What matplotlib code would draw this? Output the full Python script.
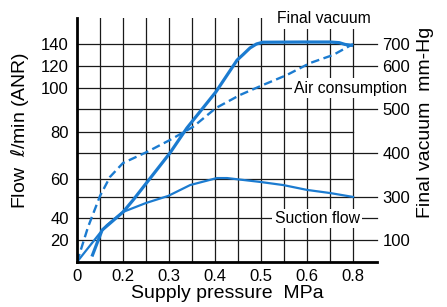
import numpy as np
import matplotlib
matplotlib.use("Agg")
import matplotlib.pyplot as plt

plt.rcParams['font.family'] = ['Liberation Sans', 'DejaVu Sans']

# ---- data ----
# Supply pressure [MPa]
fv_x = [0.065, 0.109, 0.135, 0.20, 0.222, 0.302, 0.339, 0.402, 0.448, 0.461, 0.476, 0.490, 0.504, 0.591, 0.70, 0.74, 0.765, 0.80]
fv_y = [25, 146, 170, 230, 286, 400, 457, 540, 627, 652, 682, 700, 708, 709, 709, 706, 698, 693]   # final vacuum mm-Hg

air_x = [0.0, 0.048, 0.10, 0.1435, 0.20, 0.252, 0.302, 0.352, 0.402, 0.454, 0.504, 0.556, 0.613, 0.713, 0.80]
air_y = [0, 31.8, 51.3, 60.9, 66.8, 71.5, 76.6, 82.3, 90.9, 96.8, 102.7, 111.8, 122.7, 130, 140]  # l/min

suc_x = [0.0, 0.10, 0.13, 0.20, 0.25, 0.298, 0.346, 0.404, 0.426, 0.498, 0.548, 0.60, 0.70, 0.80]
suc_y = [0, 26.4, 33.6, 43.1, 47.7, 51.3, 56.9, 60.4, 60.4, 58.5, 56.9, 54.4, 52.8, 50.8]  # l/min

x_ticks = [0, 0.2, 0.3, 0.4, 0.5, 0.6, 0.8]
x_ticklabels = ['0', '0.2', '0.3', '0.4', '0.5', '0.6', '0.8']
left_ticks = [20, 40, 60, 80, 100, 120, 140]
right_ticks = [100, 300, 400, 500, 600, 700]

# ---- nonuniform printed scales (value -> grid position) ----
X_VAL = [0, 0.2, 0.3, 0.4, 0.5, 0.6, 0.8, 1.0, 2.0]
X_POS = [0, 2, 4, 6, 8, 10, 12, 14, 24]
L_VAL = [0, 20, 40, 60, 80, 100, 120, 140, 160, 400]
L_POS = [0, 22, 44, 83, 130, 174, 196, 218, 240, 504]
R_VAL = [0, 100, 300, 400, 500, 600, 700, 800, 2000]
R_POS = [0, 22, 65, 109, 153, 196, 218, 240, 504]

def mk(vals, pos):
    vals = np.asarray(vals, float); pos = np.asarray(pos, float)
    f = lambda v: np.interp(v, vals, pos)
    g = lambda p: np.interp(p, pos, vals)
    return f, g

xf, xi = mk(X_VAL, X_POS)
lf, li = mk(L_VAL, L_POS)
rf, ri = mk(R_VAL, R_POS)

W, H = 447, 307
fig = plt.figure(figsize=(W/100, H/100), dpi=100)
ax = fig.add_axes([77/W, (H-262)/H, 300/W, 244/H])
ax.set_xscale('function', functions=(xf, xi))
ax.set_yscale('function', functions=(lf, li))
ax.set_xlim(0, float(xi(13.04)))
ax.set_ylim(0, float(li(244)))

ax2 = ax.twinx()
ax2.set_yscale('function', functions=(rf, ri))
ax2.set_ylim(0, float(ri(244)))

blue = '#1b7bd0'
grid_c = '#1a1a1a'

# vertical grid lines
for g in range(1, 13):
    ax.axvline(float(xi(g)), color=grid_c, lw=0.9, zorder=1)

# horizontal grid lines (heights of printed rows)
long_rows = [22, 44, 65, 109, 153, 174, 196, 218]
short_rows = [83, 130]
x_end_long = float(xi(13.04))
x_end_short = float(xi(12))
for h in long_rows:
    ax.plot([0, x_end_long], [float(li(h))]*2, color=grid_c, lw=0.9, zorder=1, clip_on=False)
for h in short_rows:
    ax.plot([0, x_end_short], [float(li(h))]*2, color=grid_c, lw=0.9, zorder=1, clip_on=False)

# curves
ax2.plot(fv_x, fv_y, color=blue, lw=2.3, zorder=5, solid_capstyle='butt', solid_joinstyle='round')
ax.plot(air_x, air_y, color=blue, lw=1.7, ls=(0, (3.6, 1.9)), zorder=5)
ax.plot(suc_x, suc_y, color=blue, lw=1.6, zorder=5, solid_joinstyle='round')

# spines
for s in ['top', 'right']:
    ax.spines[s].set_visible(False)
    ax2.spines[s].set_visible(False)
ax2.spines['left'].set_visible(False)
ax2.spines['bottom'].set_visible(False)
ax.spines['left'].set_linewidth(2.0)
ax.spines['bottom'].set_linewidth(2.0)
ax.spines['left'].set_zorder(6)
ax.spines['bottom'].set_zorder(6)

ax.set_xticks(x_ticks)
ax.set_xticklabels(x_ticklabels)
ax.set_yticks(left_ticks)
ax.set_yticklabels([str(v) for v in left_ticks])
ax.xaxis.set_minor_locator(matplotlib.ticker.NullLocator())
ax.yaxis.set_minor_locator(matplotlib.ticker.NullLocator())
ax2.yaxis.set_minor_locator(matplotlib.ticker.NullLocator())
ax2.set_yticks(right_ticks)
ax2.set_yticklabels([str(v) for v in right_ticks])
ax.tick_params(axis='x', length=0, pad=5, labelsize=12)
ax.tick_params(axis='y', length=0, pad=6, labelsize=12)
ax2.tick_params(axis='y', length=0, pad=4, labelsize=12)

box = dict(facecolor='white', edgecolor='none', pad=1.5)
ax.text(0.823, 0.996, 'Final vacuum', transform=ax.transAxes, ha='center', va='center',
        fontsize=11.3, bbox=box, zorder=8)
ax.text(0.913, 0.713, 'Air consumption', transform=ax.transAxes, ha='center', va='center',
        fontsize=11.3, bbox=box, zorder=8, clip_on=False)
ax.text(0.80, 0.18, 'Suction flow', transform=ax.transAxes, ha='center', va='center',
        fontsize=11.3, bbox=box, zorder=8)

fig.text(20/W, 1-130/H, 'Flow  $\\ell$/min (ANR)', rotation=90, ha='center', va='center', fontsize=14)
fig.text(425/W, 1-122/H, 'Final vacuum  mm-Hg', rotation=90, ha='center', va='center', fontsize=14)
fig.text(227/W, 1-293/H, 'Supply pressure  MPa', ha='center', va='center', fontsize=14)

fig.savefig('out.png', dpi=100)
